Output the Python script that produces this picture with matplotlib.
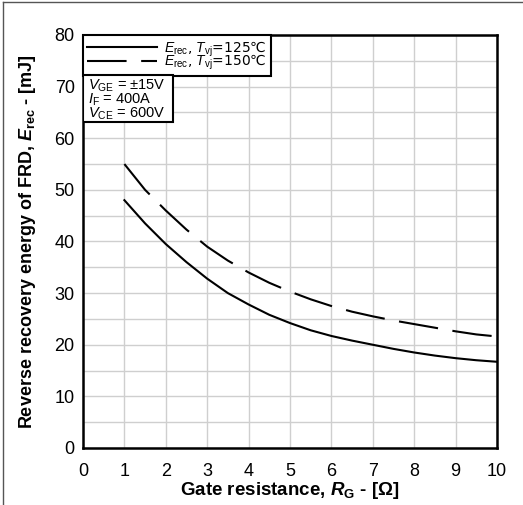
import numpy as np
import matplotlib
matplotlib.use("Agg")
import matplotlib.pyplot as plt
from matplotlib.patches import Rectangle
from matplotlib.lines import Line2D

plt.rcParams['font.family'] = ['Liberation Sans', 'DejaVu Sans']
plt.rcParams['mathtext.fontset'] = 'custom'
plt.rcParams['mathtext.rm'] = 'Liberation Sans'
plt.rcParams['mathtext.it'] = 'Liberation Sans:italic'
plt.rcParams['mathtext.bf'] = 'Liberation Sans:bold'
plt.rcParams['mathtext.bfit'] = 'Liberation Sans:bold:italic'

# =========================
# データ (読み取り値)
# =========================
rg = [1, 1.5, 2, 2.5, 3, 3.5, 4, 4.5, 5, 5.5, 6, 6.5, 7, 7.5, 8, 8.5, 9, 9.5, 10]
erec_125 = [48, 43.5, 39.5, 36, 32.8, 30, 27.8, 25.8, 24.2, 22.8, 21.7, 20.8,
            20, 19.2, 18.5, 17.9, 17.4, 17, 16.7]
erec_150 = [55, 50, 46, 42.3, 39, 36.3, 34, 32, 30.3, 28.8, 27.5, 26.4,
            25.5, 24.7, 24, 23.3, 22.6, 22, 21.6]

x_ticks = list(range(0, 11))
y_ticks = list(range(0, 81, 10))

label_125 = r"$E_\mathrm{rec}$, $T_\mathrm{vj}$=125℃"
label_150 = r"$E_\mathrm{rec}$, $T_\mathrm{vj}$=150℃"
cond_text = "$V_\\mathrm{GE}$ = ±15V\n$I_\\mathrm{F}$ = 400A\n$V_\\mathrm{CE}$ = 600V"

# =========================
# 描画
# =========================
fig = plt.figure(figsize=(5.23, 5.05), dpi=100)
ax = fig.add_axes([0.1587, 0.1129, 0.7915, 0.8178])

ax.plot(rg, erec_125, color="black", lw=1.5, label=label_125)
ax.plot(rg, erec_150, color="black", lw=1.5, dashes=(19, 7), label=label_150)

ax.set_xlim(0, 10)
ax.set_ylim(0, 80)
ax.set_xticks(x_ticks)
ax.set_yticks(y_ticks)
ax.set_yticks(np.arange(5, 80, 10), minor=True)
ax.grid(True, which="both", color="#cfcfcf", lw=1.0)
ax.set_axisbelow(True)
ax.tick_params(which="both", length=0, labelsize=13)
ax.tick_params(axis="x", pad=11)
ax.tick_params(axis="y", pad=6)
for s in ax.spines.values():
    s.set_linewidth(1.8)

ax.set_xlabel(r"Gate resistance, $\mathbfit{R}_\mathbf{G}$ - [Ω]",
              fontsize=13.5, fontweight="bold", labelpad=0)
ax.set_ylabel(r"Reverse recovery energy of FRD, $\mathbfit{E}_\mathbf{rec}$ - [mJ]",
              fontsize=13, fontweight="bold", labelpad=12)

# 凡例 (℃ は DejaVu Sans)
leg = ax.legend(loc="upper left", bbox_to_anchor=(0, 1), borderaxespad=0,
                prop={"family": "DejaVu Sans", "size": 10},
                handlelength=5.0, handletextpad=0.5,
                labelspacing=-0.45, borderpad=0.32, fancybox=False,
                framealpha=1, edgecolor="black")
leg.get_frame().set_linewidth(1.5)
leg.set_zorder(3)

# 条件ボックス
ax.add_patch(Rectangle((0, 0.789), 0.217, 0.114, transform=ax.transAxes,
                       facecolor="white", edgecolor="black", lw=1.5, zorder=4))
ax.text(0.013, 0.843, cond_text, transform=ax.transAxes, fontsize=10.5,
        va="center", ha="left", linespacing=0.8, zorder=5)

# 外枠
fig.add_artist(Line2D([0.005, 0.005], [0.0, 0.996], transform=fig.transFigure,
                      color="#555555", lw=1.0))
fig.add_artist(Line2D([0.005, 1.0], [0.996, 0.996], transform=fig.transFigure,
                      color="#555555", lw=1.0))

fig.savefig("out.png", dpi=100)
